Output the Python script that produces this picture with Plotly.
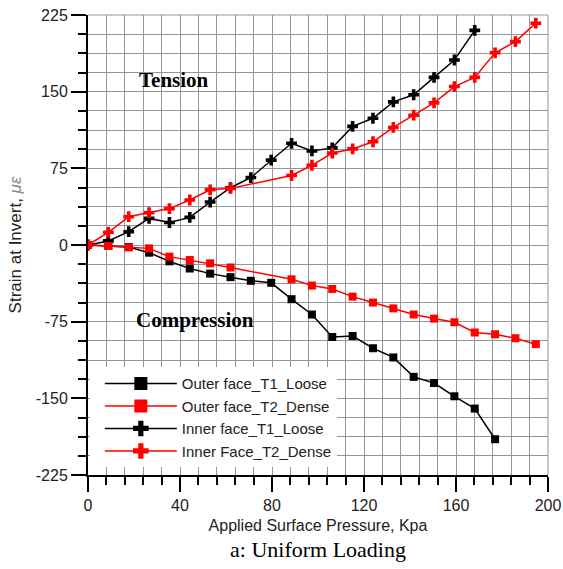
import plotly.graph_objects as go

# Data
x_outer_t1 = [0, 8.85, 17.7, 26.55, 35.4, 44.25, 53.1, 61.95, 70.8, 79.65, 88.5, 97.35,
              106.2, 115.05, 123.9, 132.75, 141.6, 150.45, 159.3, 168.15, 177.0]
y_outer_t1 = [0, -1, -2, -7.5, -16, -23, -28, -31.5, -35, -37, -53, -68,
              -90, -89, -101, -110, -129, -135, -148, -160, -190]

x_outer_t2 = [0, 8.85, 17.7, 26.55, 35.4, 44.25, 53.1, 61.95, 88.5, 97.35, 106.2,
              115.05, 123.9, 132.75, 141.6, 150.45, 159.3, 168.15, 177.0, 185.85, 194.7]
y_outer_t2 = [0, -1, -2.3, -3.3, -11.4, -14.7, -18, -22, -33.6, -39.7, -43,
              -50.5, -56.3, -62, -68, -72, -75.6, -85.6, -87.3, -91.2, -97]

x_inner_t1 = [0, 8.85, 17.7, 26.55, 35.4, 44.25, 53.1, 61.95, 70.8, 79.65, 88.5, 97.35,
              106.2, 115.05, 123.9, 132.75, 141.6, 150.45, 159.3, 168.15]
y_inner_t1 = [0, 4, 13, 26, 22, 27, 42, 56, 66, 83, 99.5, 92,
              95, 116, 124, 140, 147, 164, 181, 210]

x_inner_t2 = [0, 8.85, 17.7, 26.55, 35.4, 44.25, 53.1, 61.95, 88.5, 97.35, 106.2,
              115.05, 123.9, 132.75, 141.6, 150.45, 159.3, 168.15, 177.0, 185.85, 194.7]
y_inner_t2 = [0, 12.4, 27.7, 31.6, 35.6, 44, 54, 55.4, 68, 78, 90,
              94, 101, 115, 127, 139, 155, 164, 188, 199, 217]

names = ["Outer face_T1_Loose", "Outer face_T2_Dense", "Inner face_T1_Loose", "Inner Face_T2_Dense"]
colors = ["#000000", "#ff0000", "#000000", "#ff0000"]
symbols = ["square", "square", "cross", "cross"]
series = [(x_outer_t1, y_outer_t1), (x_outer_t2, y_outer_t2),
          (x_inner_t1, y_inner_t1), (x_inner_t2, y_inner_t2)]

x_ticks = [0, 40, 80, 120, 160, 200]
y_ticks = [-225, -150, -75, 0, 75, 150, 225]

fig = go.Figure()

# Plotted data (drawn in reverse so red squares sit above black near origin)
order = [2, 3, 0, 1]
for i in order:
    xs, ys = series[i]
    fig.add_trace(go.Scatter(
        x=xs, y=ys, mode="lines+markers", name=names[i], showlegend=False,
        line=dict(color=colors[i], width=1.5),
        marker=dict(symbol=symbols[i], size=8 if symbols[i] == "square" else 9,
                    color=colors[i], line=dict(width=0)),
    ))

# Legend entries with larger markers
for i in range(4):
    fig.add_trace(go.Scatter(
        x=[None], y=[None], mode="lines+markers", name=names[i], legendgroup=str(i),
        line=dict(color=colors[i], width=1.5),
        marker=dict(symbol=symbols[i], size=13, color=colors[i], line=dict(width=0)),
    ))

grid_col = "#969696"
fig.update_layout(
    width=563, height=569,
    margin=dict(l=88, r=15, t=15, b=94, autoexpand=False),
    paper_bgcolor="white", plot_bgcolor="white",
    font=dict(family="Arial, Liberation Sans, sans-serif", color="#222", size=15),
    showlegend=True,
    legend=dict(
        x=0.004, y=0.017, xanchor="left", yanchor="bottom",
        bgcolor="white", borderwidth=0,
        font=dict(family="Arial, Liberation Sans, sans-serif", size=15, color="#222"),
        itemwidth=72, tracegroupgap=0, indentation=10,
        itemclick=False,
    ),
    xaxis=dict(
        range=[0, 200], tickmode="array", tickvals=x_ticks, ticktext=[str(v) for v in x_ticks],
        automargin=False,
        showline=True, linecolor="black", linewidth=2, zeroline=False,
        ticks="outside", ticklen=15, tickwidth=2, tickcolor="black",
        showgrid=True, gridcolor=grid_col, gridwidth=1,
        minor=dict(dtick=8, tick0=0, ticks="outside", ticklen=8, tickwidth=2,
                   tickcolor="black", showgrid=True, gridcolor=grid_col, gridwidth=1),
        tickfont=dict(size=16, color="#222"),
        title=dict(text="Applied Surface Pressure, Kpa", font=dict(size=16, color="#222"), standoff=7),
    ),
    yaxis=dict(
        range=[-225, 225], tickmode="array", tickvals=y_ticks, ticktext=[str(v) for v in y_ticks],
        automargin=False,
        showline=True, linecolor="black", linewidth=2, zeroline=False,
        ticks="outside", ticklen=15, tickwidth=2, tickcolor="black",
        showgrid=True, gridcolor=grid_col, gridwidth=1,
        minor=dict(dtick=18.75, tick0=0, ticks="outside", ticklen=8, tickwidth=2,
                   tickcolor="black", showgrid=True, gridcolor=grid_col, gridwidth=1),
        tickfont=dict(size=16, color="#222"),
        title=dict(text="Strain at Invert, <span style='color:#888'><i>\u03bc\u03b5</i></span>",
                   font=dict(size=17, color="#222"), standoff=10),
    ),
)

# Frame on top and right (grid-coloured)
fig.add_shape(type="line", xref="paper", yref="paper", x0=0, x1=1, y0=1, y1=1,
              line=dict(color=grid_col, width=1))
fig.add_shape(type="line", xref="paper", yref="paper", x0=1, x1=1, y0=0, y1=1,
              line=dict(color=grid_col, width=1))

fig.add_annotation(x=37.5, y=161, xref="x", yref="y", text="<b>Tension</b>", showarrow=False,
                   font=dict(family="Times New Roman, Liberation Serif, serif", size=21, color="black"))
fig.add_annotation(x=46.5, y=-73, xref="x", yref="y", text="<b>Compression</b>", showarrow=False,
                   font=dict(family="Times New Roman, Liberation Serif, serif", size=21, color="black"))
fig.add_annotation(x=0.5, y=-0.161, xref="paper", yref="paper", yanchor="middle",
                   text="a: Uniform Loading", showarrow=False,
                   font=dict(family="Times New Roman, Liberation Serif, serif", size=22, color="black"))

fig.write_html("out.html")
